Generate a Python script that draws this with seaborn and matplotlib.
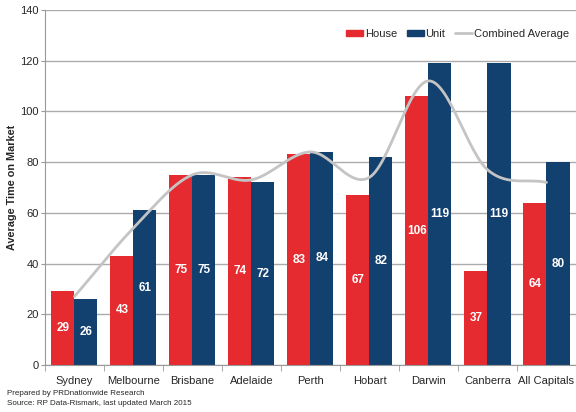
import numpy as np
import pandas as pd
import matplotlib
matplotlib.use("Agg")
import matplotlib.pyplot as plt
import seaborn as sns
from matplotlib.patches import Patch
from matplotlib.lines import Line2D

categories = ["Sydney", "Melbourne", "Brisbane", "Adelaide", "Perth",
              "Hobart", "Darwin", "Canberra", "All Capitals"]
house = [29, 43, 75, 74, 83, 67, 106, 37, 64]
unit = [26, 61, 75, 72, 84, 82, 119, 119, 80]
combined = [27, 54, 75, 73, 84, 74, 112, 77, 72]

sns.set_style("white")
plt.rcParams["font.family"] = ["Liberation Sans", "DejaVu Sans"]

RED = "#E52A30"
BLUE = "#12406F"
GREY = "#C4C4C4"

df = pd.DataFrame({
    "City": categories * 2,
    "Type": ["House"] * len(categories) + ["Unit"] * len(categories),
    "Days": house + unit,
})

fig = plt.figure(figsize=(5.76, 4.12), dpi=100)
ax = fig.add_axes([0.078, 0.114, 0.922, 0.862])

sns.barplot(data=df, x="City", y="Days", hue="Type", order=categories,
            hue_order=["House", "Unit"], palette=[RED, BLUE],
            width=0.78, saturation=1, ax=ax, legend=False, zorder=2,
            linewidth=0, edgecolor="none")

for cont in ax.containers:
    ax.bar_label(cont, label_type="center", color="white",
                 fontsize=8.5, fontweight="bold")

# smoothed combined-average line (Catmull-Rom through the data points)
xs = np.arange(len(categories), dtype=float)
ys = np.array(combined, dtype=float)
px = np.concatenate([[2 * xs[0] - xs[1]], xs, [2 * xs[-1] - xs[-2]]])
py = np.concatenate([[2 * ys[0] - ys[1]], ys, [2 * ys[-1] - ys[-2]]])
cx, cy = [], []
for i in range(1, len(px) - 2):
    t = np.linspace(0, 1, 30)
    p0, p1, p2, p3 = [np.array([px[j], py[j]]) for j in range(i - 1, i + 3)]
    t2, t3 = t * t, t * t * t
    pts = 0.5 * ((2 * p1)[:, None] + (-p0 + p2)[:, None] * t
                 + (2 * p0 - 5 * p1 + 4 * p2 - p3)[:, None] * t2
                 + (-p0 + 3 * p1 - 3 * p2 + p3)[:, None] * t3)
    cx.extend(pts[0]); cy.extend(pts[1])
ax.plot(cx, cy, color=GREY, lw=2, zorder=3, solid_capstyle="round")

ax.set_ylim(0, 140)
ax.set_xlim(-0.5, len(categories) - 0.5)
ax.set_yticks(range(0, 141, 20))
ax.yaxis.grid(True, color="#ABABAB", lw=1)
ax.set_axisbelow(True)
for s in ["top", "right"]:
    ax.spines[s].set_visible(False)
ax.spines["left"].set_color("#999999")
ax.spines["bottom"].set_color("#999999")
ax.tick_params(axis="y", length=3, color="#999999", labelsize=8, pad=1.5, left=True)
ax.tick_params(axis="x", length=0, labelsize=8, pad=8)
ax.set_xticks(np.arange(len(categories)))
ax.set_xticks(np.arange(len(categories) + 1) - 0.5, minor=True)
ax.tick_params(axis="x", which="minor", length=4, color="#999999", bottom=True)
ax.set_xlabel("")
ax.set_ylabel("Average Time on Market", fontsize=7.8, fontweight="bold")
ax.yaxis.set_label_coords(-0.052, 0.5)

handles = [Patch(color=RED, label="House"), Patch(color=BLUE, label="Unit"),
           Line2D([], [], color=GREY, lw=2, label="Combined Average")]
ax.legend(handles=handles, loc="upper right", bbox_to_anchor=(1.005, 0.975),
          ncol=3, frameon=False, fontsize=8, handlelength=1.5,
          handleheight=0.4, handletextpad=0.15, columnspacing=0.9)

fig.text(0.012, 0.042, "Prepared by PRDnationwide Research", fontsize=5.8)
fig.text(0.012, 0.016, "Source: RP Data-Rismark, last updated March 2015", fontsize=5.8)

fig.savefig("out.png", dpi=100)
